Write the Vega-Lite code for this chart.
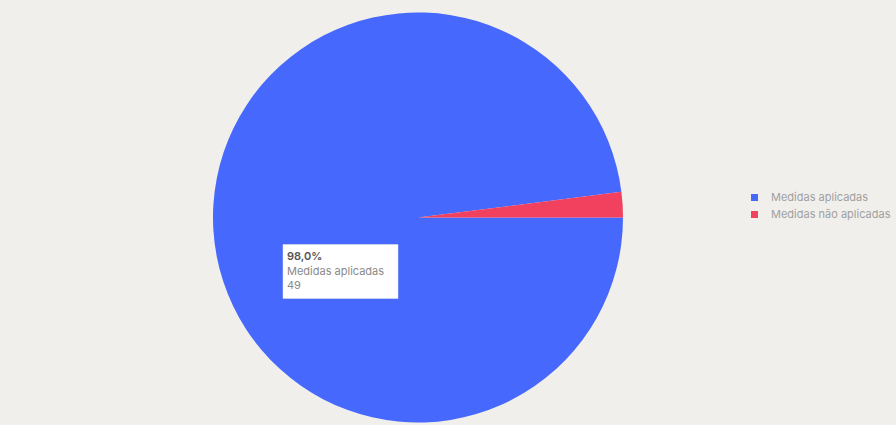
{
  "$schema": "https://vega.github.io/schema/vega-lite/v6.json",
  "width": 818,
  "height": 417,
  "autosize": {"type": "none"},
  "padding": {"left": 9, "top": 9, "right": 69, "bottom": 0},
  "background": "#f1efec",
  "config": {"view": {"stroke": null}, "font": "Inter"},
  "data": {"values": [
    {"category": "Medidas aplicadas", "count": 49, "pct": "98,0%"},
    {"category": "Medidas não aplicadas", "count": 1, "pct": "2,0%"}
  ]},
  "encoding": {
    "theta": {"field": "count", "type": "quantitative", "stack": true,
      "scale": {"range": [1.5707963, 7.8539816]}},
    "order": {"field": "category", "sort": "ascending"}
  },
  "layer": [
    {
      "mark": {"type": "arc", "outerRadius": 205, "stroke": null},
      "encoding": {
        "color": {"field": "category", "type": "nominal",
          "scale": {"domain": ["Medidas aplicadas", "Medidas não aplicadas"], "range": ["#4668fc", "#f2405f"]},
          "legend": {"title": null, "orient": "none", "legendX": 740, "legendY": 183,
            "symbolType": "square", "symbolSize": 49, "labelFontSize": 11, "labelColor": "#a0a0a0",
            "labelFont": "Inter", "labelOffset": 11, "rowPadding": 5, "symbolStrokeWidth": 0, "labelLimit": 300}}
      }
    },
    {
      "transform": [{"filter": "datum.category === 'Medidas aplicadas'"}],
      "mark": {"type": "point", "shape": "M-135,27H-20V81H-135Z", "size": 4, "filled": true,
        "fill": "#ffffff", "stroke": "#e6e6e6", "strokeWidth": 0.5, "opacity": 1}
    },
    {
      "transform": [{"filter": "datum.category === 'Medidas aplicadas'"}],
      "mark": {"type": "text", "radius": 141.9, "thetaOffset": -0.3316, "align": "left", "baseline": "middle",
        "dy": -15, "fontSize": 11, "fontWeight": 600, "color": "#555555"},
      "encoding": {"text": {"field": "pct"}}
    },
    {
      "transform": [{"filter": "datum.category === 'Medidas aplicadas'"}],
      "mark": {"type": "text", "radius": 141.9, "thetaOffset": -0.3316, "align": "left", "baseline": "middle",
        "fontSize": 11, "color": "#8a8a8a"},
      "encoding": {"text": {"field": "category"}}
    },
    {
      "transform": [{"filter": "datum.category === 'Medidas aplicadas'"}],
      "mark": {"type": "text", "radius": 141.9, "thetaOffset": -0.3316, "align": "left", "baseline": "middle",
        "dy": 14, "fontSize": 11, "color": "#8a8a8a"},
      "encoding": {"text": {"field": "count"}}
    }
  ]
}
